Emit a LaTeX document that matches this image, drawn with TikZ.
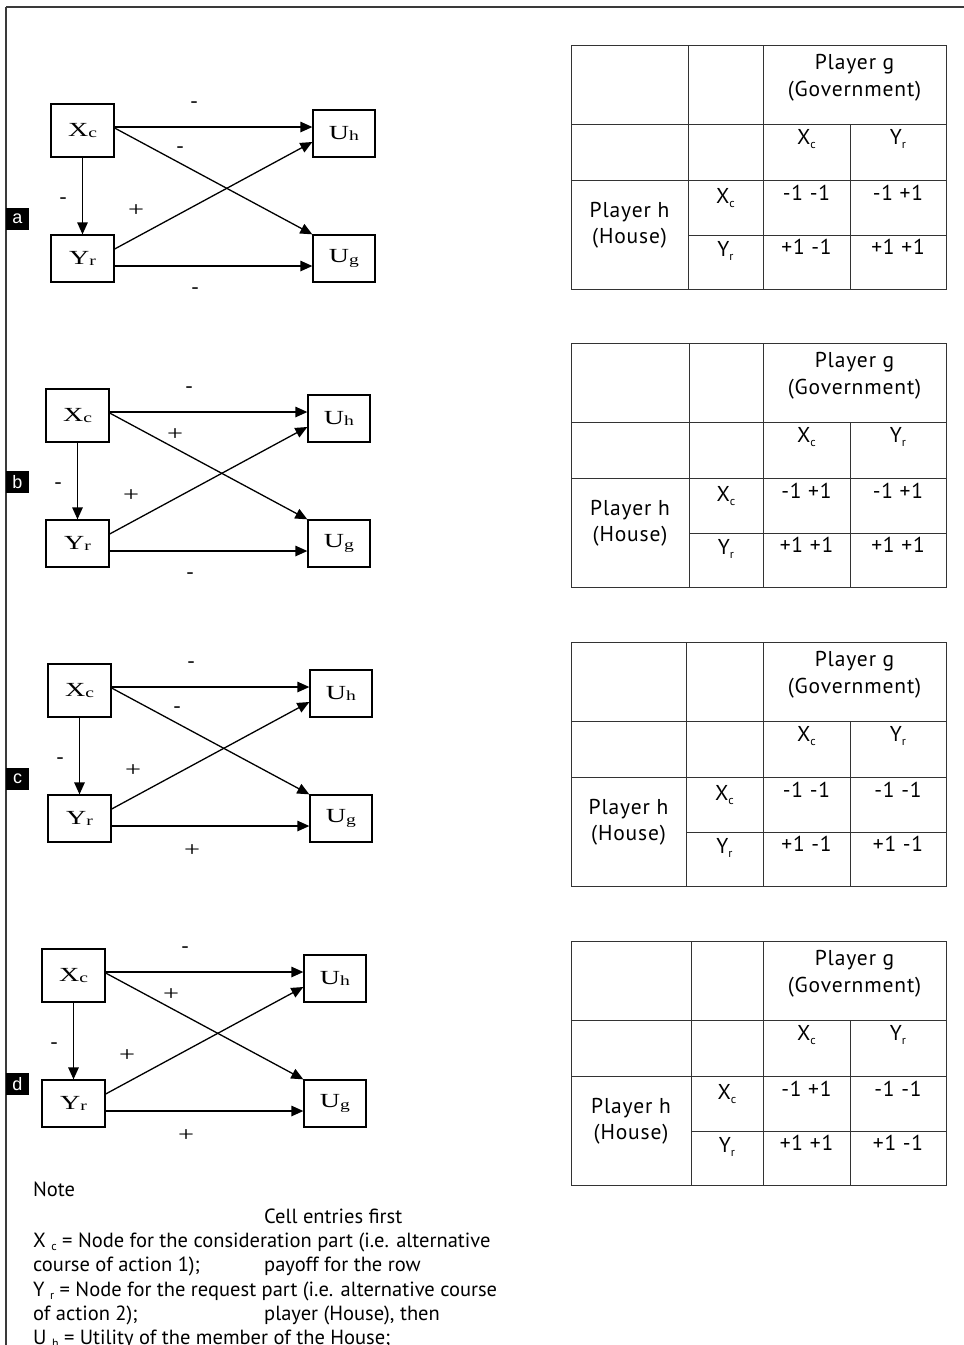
\documentclass[tikz,border=0pt]{standalone}
\usepackage{fontspec}
\setmainfont{PT Sans}
\newfontfamily\tabf[LetterSpace=4]{PT Sans}
\newfontfamily\serifd{Liberation Serif}
\newfontfamily\arialf{Liberation Sans}
\usetikzlibrary{arrows.meta,calc}

\definecolor{tblgray}{HTML}{333333}
\definecolor{framegray}{HTML}{3A3A3A}

\newcommand{\dsub}[2]{\scalebox{1.4}[1]{#1\raisebox{-1.5pt}{\fontsize{14}{14}\selectfont #2}}}
\newcommand{\tsub}[2]{#1\raisebox{-4pt}{\fontsize{12}{12}\selectfont #2}}
\newcommand{\wide}[1]{\scalebox{1.35}[1]{#1}}

\tikzset{
  dbox/.style={draw=black, line width=1.3pt, inner sep=0pt, font=\serifd\fontsize{20}{20}\selectfont},
  darr/.style={line width=1.3pt, -{Triangle[length=12pt,width=10.5pt]}},
  dlab/.style={inner sep=0pt, font=\serifd\fontsize{21}{21}\selectfont},
  tline/.style={draw=tblgray, line width=1pt},
  ttext/.style={inner sep=0pt, anchor=base, font=\tabf\fontsize{21.5}{21.5}\selectfont},
  letterbox/.style={fill=black, text=white, inner sep=0pt, minimum width=23pt, minimum height=22pt, font=\arialf\fontsize{18}{18}\selectfont},
  notetext/.style={inner sep=0pt, anchor=base west, font=\fontsize{20.5}{20.5}\selectfont},
}

% #1 prefix, #2 x, #3 y, #4 top, #5 diag, #6 left, #7 plus, #8 bottom
\newcommand{\pathdiagram}[8]{%
 \begin{scope}[shift={(#2,#3)}]
  \node[dbox, minimum width=63pt, minimum height=53pt] (#1x) at (31.5,26.5) {\dsub{X}{c}};
  \node[dbox, minimum width=62pt, minimum height=47pt] (#1uh) at (293,29.5) {\dsub{U}{h}};
  \node[dbox, minimum width=63pt, minimum height=47pt] (#1y) at (31.5,154.5) {\dsub{Y}{r}};
  \node[dbox, minimum width=62pt, minimum height=47pt] (#1ug) at (293,154.5) {\dsub{U}{g}};
  \draw[darr] ([yshift=3.5pt]#1x.east) -- ([yshift=3.5pt]#1x.east -| #1uh.west);
  \draw[darr] ([yshift=2.5pt]#1x.east) -- (#1ug.north west);
  \draw[darr] ([yshift=9.5pt]#1y.east) -- ([yshift=-8.5pt]#1uh.west);
  \draw[darr] ([yshift=-7.5pt]#1y.east) -- ([yshift=-7.5pt]#1y.east -| #1ug.west);
  \draw[darr] (#1x.south) -- (#1y.north);
  \node[dlab] (#1l1) at (143,1) {#4};
  \node[dlab] (#1l2) at (129,46) {#5};
  \node[dlab] (#1l3) at (12,97) {#6};
  \node[dlab] (#1l4) at (85,107) {#7};
  \node[dlab] (#1l5) at (144,187) {#8};
 \end{scope}}

% #1 prefix, #2 top, #3 col2 x, #4 v11, #5 v12, #6 v21, #7 v22
\newcommand{\paytable}[7]{%
  \draw[tline] (571,#2) rectangle (946,#2+244);
  \draw[tline] (571,#2+79) -- (946,#2+79);
  \draw[tline] (571,#2+135) -- (946,#2+135);
  \draw[tline] (#3,#2+190) -- (946,#2+190);
  \draw[tline] (#3,#2) -- (#3,#2+244);
  \draw[tline] (763,#2) -- (763,#2+244);
  \draw[tline] (850,#2+79) -- (850,#2+244);
  \node[ttext] (#1pg) at (854.5,#2+24.3) {Player g};
  \node[ttext] (#1gov) at (854.5,#2+51.7) {(Government)};
  \node[ttext] (#1hx) at (806.5,#2+99.3) {\tsub{X}{c}};
  \node[ttext] (#1hy) at (898,#2+99.3) {\tsub{Y}{r}};
  \node[ttext] (#1ph) at ({(571+#3)/2},#2+172.7) {Player h};
  \node[ttext] (#1ho) at ({(571+#3)/2},#2+198.3) {(House)};
  \node[ttext] (#1rx) at ({(763+#3)/2},#2+158.3) {\tsub{X}{c}};
  \node[ttext] (#1ry) at ({(763+#3)/2},#2+211.7) {\tsub{Y}{r}};
  \node[ttext] (#1v11) at (806.5,#2+155.7) {#4};
  \node[ttext] (#1v12) at (898,#2+155.7) {#5};
  \node[ttext] (#1v21) at (806.5,#2+209.3) {#6};
  \node[ttext] (#1v22) at (898,#2+209.3) {#7};
}

\begin{document}
\begin{tikzpicture}[x=1pt,y=-1pt]
\useasboundingbox (0,0) rectangle (964,1345);
\fill[white] (0,0) rectangle (964,1345);
\draw[framegray, line width=1.3pt] (6,7) -- (964,7);
\draw[framegray, line width=1.3pt] (6,7) -- (6,1345);

\pathdiagram{a}{51}{104}{-}{-}{-}{\wide{+}}{-}
\pathdiagram{b}{46}{389}{-}{\wide{+}}{-}{\wide{+}}{-}
\pathdiagram{c}{48}{664}{-}{-}{-}{\wide{+}}{\wide{+}}
\pathdiagram{d}{42}{949}{-}{\wide{+}}{-}{\wide{+}}{\wide{+}}

\node[letterbox] (la) at (17.5,219) {a};
\node[letterbox] (lb) at (17.5,482) {b};
\node[letterbox] (lc) at (17.5,779) {c};
\node[letterbox] (ld) at (17.5,1084) {d};

\paytable{ta}{45}{688}{-1 -1}{-1 +1}{+1 -1}{+1 +1}
\paytable{tb}{343}{689}{-1 +1}{-1 +1}{+1 +1}{+1 +1}
\paytable{tc}{642}{686}{-1 -1}{-1 -1}{+1 -1}{+1 -1}
\paytable{td}{941}{691}{-1 +1}{-1 -1}{+1 +1}{+1 -1}

\node[notetext] (n1) at (33,1196) {Note};
\node[notetext] (n2) at (264,1223) {Cell entries first};
\node[notetext] (n3) at (33,1247) {X \raisebox{-3pt}{\fontsize{12}{12}\selectfont c} = Node for the consideration part (i.e. alternative};
\node[notetext] (n4) at (33,1271.5) {course of action 1);};
\node[notetext] (n4b) at (264,1271.5) {payoff for the row};
\node[notetext] (n5) at (33,1296) {Y \raisebox{-3pt}{\fontsize{12}{12}\selectfont r} = Node for the request part (i.e. alternative course};
\node[notetext] (n6) at (33,1320) {of action 2);};
\node[notetext] (n6b) at (264,1320) {player (House), then};
\node[notetext] (n7) at (33,1344.5) {U \raisebox{-3pt}{\fontsize{12}{12}\selectfont h} = Utility of the member of the House;};
\end{tikzpicture}
\end{document}
